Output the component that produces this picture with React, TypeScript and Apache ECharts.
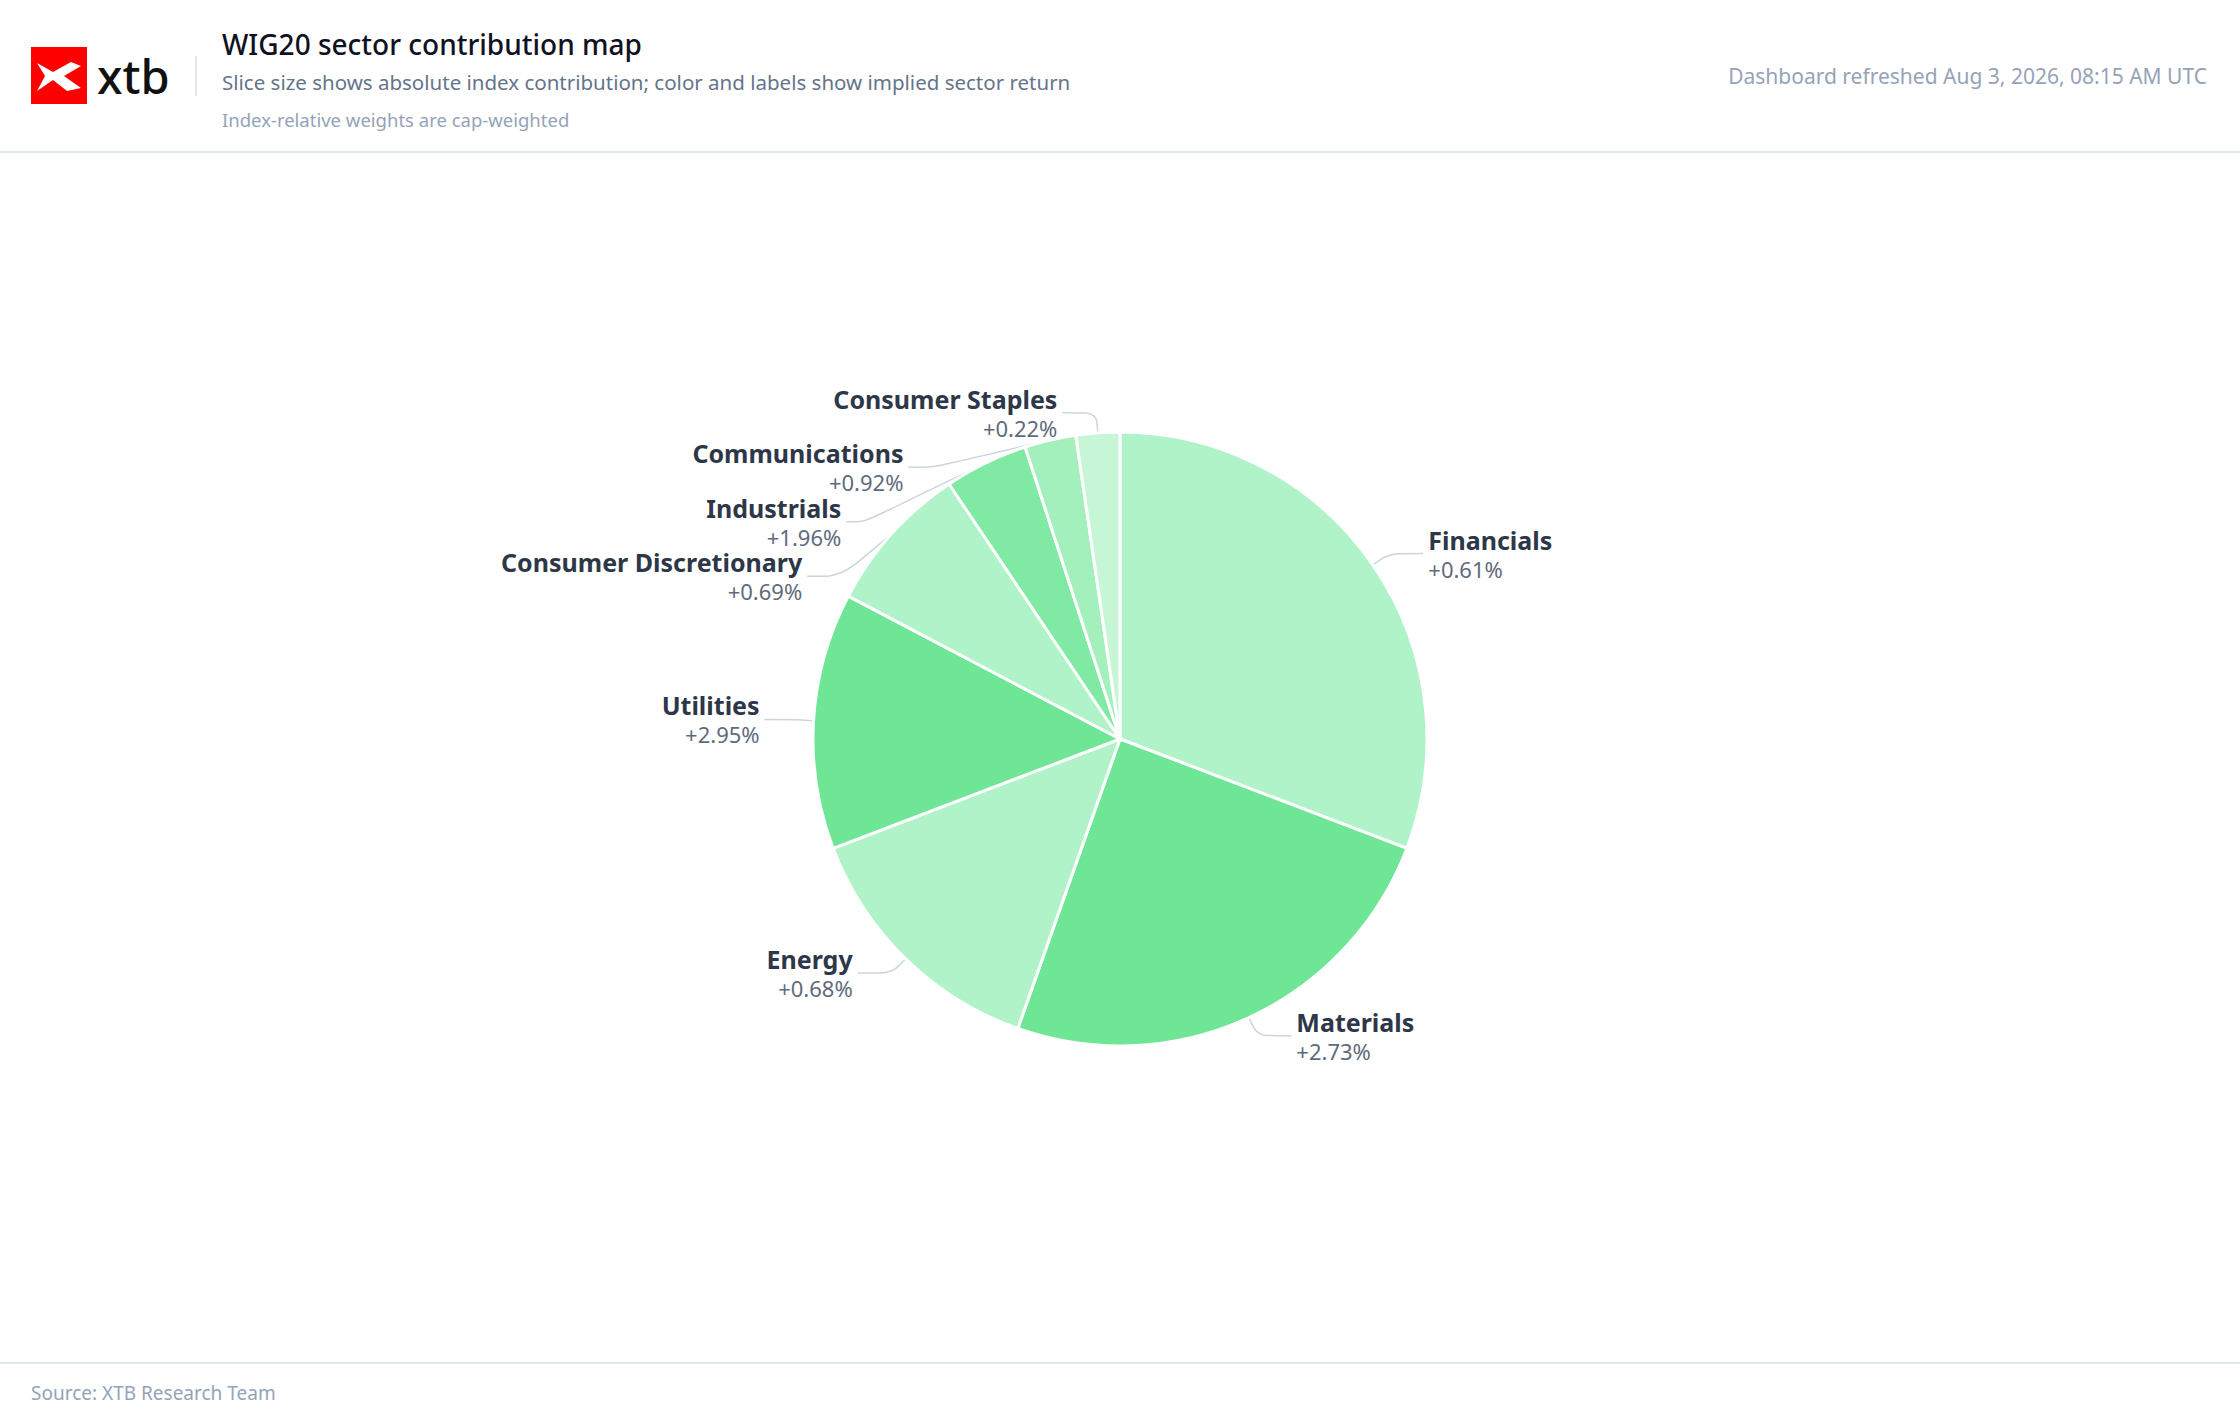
import React, { useEffect, useRef } from "react";
import * as echarts from "echarts";

const sectors = ["Financials", "Materials", "Energy", "Utilities", "Consumer Discretionary", "Industrials", "Communications", "Consumer Staples"];
const contributions = [30.8, 24.6, 13.8, 13.5, 7.9, 4.4, 2.7, 2.3];
const returns = [0.61, 2.73, 0.68, 2.95, 0.69, 1.96, 0.92, 0.22];
const colors = ["#b1f3c8", "#6ee696", "#b1f3c8", "#6ee696", "#b1f3c8", "#80e9a3", "#a4f0bd", "#c7f6d6"];

const FONT = "'Noto Sans', 'Open Sans', sans-serif";

echarts.graphic.registerShape(
  "xtbMark",
  echarts.graphic.extendPath("M6 16 L22 25 L40 15 L50 19 L33 29 L50 41 L36 44 L22 33 L6 44 L14 29 Z", {})
);

export default function App() {
  const ref = useRef<HTMLDivElement>(null);
  useEffect(() => {
    document.body.style.margin = "0";
    const chart = echarts.init(ref.current!, null, { renderer: "svg" });
    chart.setOption({
      animation: false,
      backgroundColor: "#ffffff",
      graphic: [
        { type: "rect", shape: { x: 31, y: 47, width: 56, height: 57 }, style: { fill: "#ff0000" } },
        { type: "xtbMark", x: 31, y: 47, scaleX: 1, scaleY: 1, style: { fill: "#ffffff" } },
        { type: "text", x: 97, y: 76, style: { text: "xtb", font: `500 47px ${FONT}`, fill: "#111111", verticalAlign: "middle" } },
        { type: "line", shape: { x1: 196, y1: 56, x2: 196, y2: 96 }, style: { stroke: "#e2e8f0", lineWidth: 2 } },
        { type: "text", x: 222, y: 44, style: { text: "WIG20 sector contribution map", font: `500 28px ${FONT}`, fill: "#0f1222", verticalAlign: "middle" } },
        { type: "text", x: 222, y: 82, style: { text: "Slice size shows absolute index contribution; color and labels show implied sector return", font: `20.5px ${FONT}`, fill: "#64748b", verticalAlign: "middle" } },
        { type: "text", x: 222, y: 119, style: { text: "Index-relative weights are cap-weighted", font: `18.5px ${FONT}`, fill: "#94a3b8", verticalAlign: "middle" } },
        { type: "text", x: 2207, y: 76, style: { text: "Dashboard refreshed Aug 3, 2026, 08:15 AM UTC", font: `21px ${FONT}`, fill: "#94a3b8", verticalAlign: "middle", align: "right" } },
        { type: "line", shape: { x1: 0, y1: 152, x2: 2240, y2: 152 }, style: { stroke: "#e2e8f0", lineWidth: 2 } },
        { type: "line", shape: { x1: 0, y1: 1363, x2: 2240, y2: 1363 }, style: { stroke: "#e2e8f0", lineWidth: 2 } },
        { type: "text", x: 31, y: 1393, style: { text: "Source: XTB Research Team", font: `19px ${FONT}`, fill: "#94a3b8", verticalAlign: "middle" } },
      ],
      series: [
        {
          type: "pie",
          center: [1120, 739],
          radius: [0, 307],
          startAngle: 90,
          clockwise: true,
          data: sectors.map((s, i) => ({
            name: s,
            value: contributions[i],
            itemStyle: { color: colors[i] },
          })),
          itemStyle: { borderColor: "#ffffff", borderWidth: 3 },
          label: {
            formatter: (p: any) => `{n|${p.name}}\n{v|+${returns[p.dataIndex].toFixed(2)}%}`,
            rich: {
              n: { fontFamily: FONT, fontWeight: "bold", fontSize: 25, color: "#2d3748", lineHeight: 30 },
              v: { fontFamily: FONT, fontSize: 22, color: "#5f6b7d", lineHeight: 28 },
            },
          },
          labelLine: { length: 20, length2: 34, smooth: 0.3, lineStyle: { color: "#cbd5e0", width: 1.5 } },
        },
      ],
    });
    return () => chart.dispose();
  }, []);
  return <div ref={ref} style={{ width: 2240, height: 1418 }} />;
}
